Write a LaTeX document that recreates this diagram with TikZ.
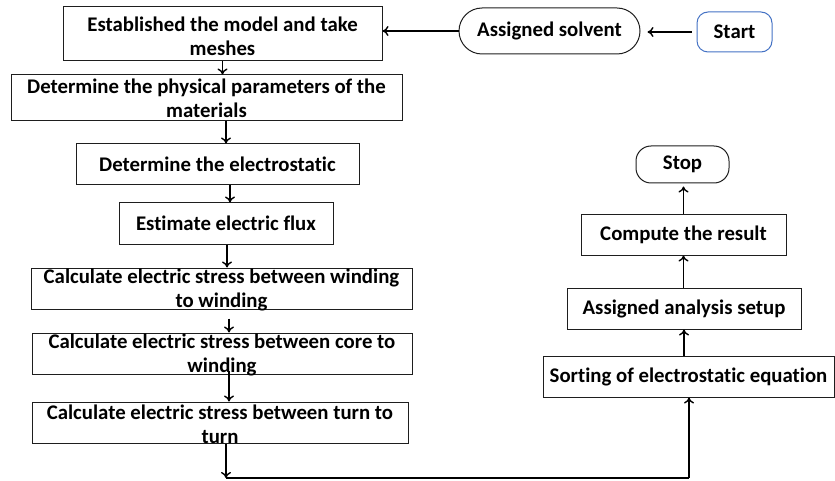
\documentclass[tikz,border=0pt]{standalone}
\usepackage{fontspec}
\setmainfont{Carlito}[RawFeature={-liga}]
\usetikzlibrary{arrows.meta}
\definecolor{startblue}{RGB}{68,114,196}
\definecolor{boxline}{RGB}{30,30,30}
\begin{document}
\begin{tikzpicture}[x=1pt,y=-1pt,
  txt/.style={font=\fontsize{20.8}{24}\selectfont\bfseries, align=center, inner sep=0pt, text=black},
  box/.style={draw=boxline, line width=1pt, inner sep=0pt, minimum width=#1},
  arr/.style={line width=1.4pt, -{To[length=6pt,width=10pt]}},
  ln/.style={line width=1.4pt}
]
\useasboundingbox (0,0) rectangle (835,481);
% left column
\node[box=319, minimum height=54, label={[txt,yshift=-2]center:Established the model and take\\meshes}] (b1) at (222.5,34) {};
\node[box=391, minimum height=46, label={[txt]center:Determine the physical parameters of the\\materials}] (b2) at (206.5,98) {};
\node[box=283, minimum height=41, label={[txt]center:Determine the electrostatic}] (b3) at (217.5,164.5) {};
\node[box=214, minimum height=41, label={[txt]center:Estimate electric flux}] (b4) at (226,223.5) {};
\node[box=381, minimum height=41, label={[txt,yshift=-1.5]center:Calculate electric stress between winding\\to winding}] (b5) at (221.5,288.5) {};
\node[box=380, minimum height=41, label={[txt,yshift=-1.5]center:Calculate electric stress between core to\\winding}] (b6) at (222,353.5) {};
\node[box=376, minimum height=41, label={[txt,yshift=-1.5]center:Calculate electric stress between turn to\\turn}] (b7) at (220,422.5) {};
% top right
\node[draw=boxline, line width=1pt, rounded corners=23pt, minimum width=181, minimum height=46, txt] (solv) at (549.5,31) {Assigned solvent};
\node[draw=startblue, line width=1pt, rounded corners=11pt, minimum width=75, minimum height=40, txt] (start) at (734.5,32) {Start};
% right column
\node[draw=boxline, line width=1pt, rounded corners=15pt, minimum width=93, minimum height=37, txt] (stop) at (682.5,164.5) {Stop};
\node[box=205, minimum height=40, txt] (comp) at (683.5,235) {Compute the result};
\node[box=234, minimum height=41, txt] (anal) at (684,308.5) {Assigned analysis setup};
\node[box=291, minimum height=41, txt] (sort) at (688.5,376.5) {Sorting of electrostatic equation};
% connectors
\draw[arr, shorten <=5pt, shorten >=7pt] (start.west) -- (start.west -| solv.east);
\draw[arr] (solv.west) -- (solv.west -| b1.east);
\draw[arr] (b1.south) -- (b1.south |- b2.north);
\draw[arr] ([xshift=19.5]b2.south) -- ([xshift=19.5]b2.south |- b3.north);
\draw[arr] ([xshift=12.5]b3.south) -- ([xshift=12.5]b3.south |- b4.north);
\draw[arr] ([xshift=1]b4.south) -- ([xshift=1]b4.south |- b5.north);
\draw[arr] ([xshift=7.5,yshift=-9]b5.south) -- ([xshift=7.5]b5.south |- b6.north);
\draw[arr] ([xshift=7,yshift=4]b6.south) -- ([xshift=7]b6.south |- b7.north);
\coordinate (bl) at (226,478);
\coordinate (br) at (689,478);
\draw[arr] ([xshift=6]b7.south) -- (bl);
\draw[ln] (bl) -- (br);
\draw[arr] (br) -- (br |- sort.south);
\draw[arr] (sort.north -| anal.south) -- (anal.south);
\draw[arr] ([xshift=-0.5]anal.north) -- ([xshift=-0.5]anal.north |- comp.south);
\draw[arr, shorten >=3pt] (comp.north) -- (comp.north |- stop.south);
\end{tikzpicture}
\end{document}
